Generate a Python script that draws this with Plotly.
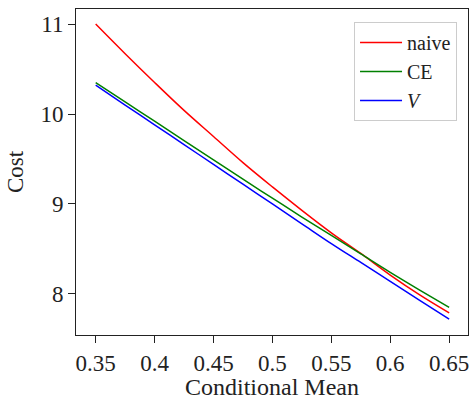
import plotly.graph_objects as go

conditional_mean = [0.35, 0.375, 0.40, 0.425, 0.45, 0.475, 0.50, 0.525, 0.55, 0.575, 0.60, 0.625, 0.65]
cost_naive = [11.00, 10.67, 10.35, 10.04, 9.75, 9.46, 9.19, 8.93, 8.68, 8.45, 8.21, 7.99, 7.79]
cost_ce = [10.35, 10.135, 9.92, 9.705, 9.49, 9.275, 9.065, 8.855, 8.65, 8.445, 8.24, 8.043, 7.85]
cost_v = [10.32, 10.10, 9.88, 9.66, 9.44, 9.22, 9.00, 8.78, 8.56, 8.35, 8.14, 7.93, 7.72]

x_ticks = [0.35, 0.40, 0.45, 0.50, 0.55, 0.60, 0.65]
x_tick_labels = ["0.35", "0.4", "0.45", "0.5", "0.55", "0.6", "0.65"]
y_ticks = [8, 9, 10, 11]
y_tick_labels = ["8", "9", "10", "11"]

FONT = "Liberation Serif"

fig = go.Figure()
fig.add_trace(go.Scatter(x=conditional_mean, y=cost_naive, mode="lines", name="naive",
                         line=dict(color="#ff0000", width=1.5, shape="spline")))
fig.add_trace(go.Scatter(x=conditional_mean, y=cost_ce, mode="lines", name="CE",
                         line=dict(color="#008000", width=1.5, shape="spline")))
fig.add_trace(go.Scatter(x=conditional_mean, y=cost_v, mode="lines", name="<i>V</i>",
                         line=dict(color="#0000ff", width=1.5, shape="spline")))

axis_common = dict(showgrid=False, zeroline=False, showline=True, linecolor="#222",
                   linewidth=1, mirror=True, ticks="outside", ticklen=7, tickwidth=1,
                   tickcolor="#222", tickfont=dict(family=FONT, size=23, color="#222"),
                   ticklabeloverflow="allow")

fig.update_layout(
    width=470, height=400,
    margin=dict(l=76, r=2, t=9, b=65),
    plot_bgcolor="white", paper_bgcolor="white",
    font=dict(family=FONT, size=23, color="#222"),
    xaxis=dict(range=[0.3333, 0.666], tickvals=x_ticks, ticktext=x_tick_labels,
               title=dict(text="Conditional Mean", font=dict(family=FONT, size=24), standoff=2),
               **axis_common),
    yaxis=dict(range=[7.544, 11.167], tickvals=y_ticks, ticktext=y_tick_labels,
               title=dict(text="Cost", font=dict(family=FONT, size=23), standoff=10),
               **axis_common),
    legend=dict(x=0.972, y=0.96, xanchor="right", yanchor="top",
                bordercolor="#cccccc", borderwidth=1, bgcolor="white",
                font=dict(family=FONT, size=20, color="#222"),
                tracegroupgap=0, itemwidth=42),
    showlegend=True,
)

fig.write_html("out.html", config={"displayModeBar": False},
               post_script="document.body.style.margin='0';")
